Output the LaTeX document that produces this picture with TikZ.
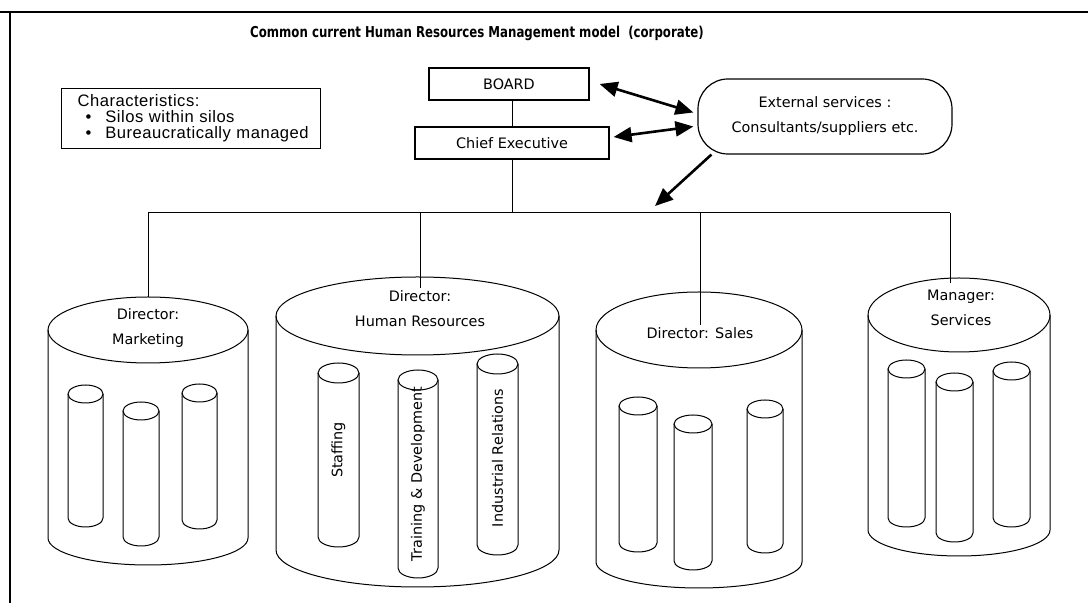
\documentclass[tikz,border=0pt]{standalone}
\usepackage{fontspec}
\setmainfont{DejaVu Sans}
\newfontfamily\charfont[LetterSpace=3]{Liberation Sans}
\usetikzlibrary{arrows.meta}
\newcommand\cyl[6]{%
  \draw (#1-#3,#2) -- (#1-#3,#5) arc[start angle=180,end angle=360,x radius={#3*0.5pt},y radius={#6*0.5pt}] -- (#1+#3,#2);
  \draw (#1,#2) ellipse [x radius={#3*0.5pt}, y radius={#4*0.5pt}];}
\tikzset{
  every path/.style={line width=0.5pt},
  lbl/.style={font=\fontsize{7.2pt}{12.5pt}\selectfont, align=center, inner sep=1pt},
  boxnode/.style={draw, line width=0.6pt, font=\fontsize{7.2pt}{9pt}\selectfont, inner sep=0pt},
  vlbl/.style={font=\fontsize{7.2pt}{9pt}\selectfont, rotate=90, inner sep=1pt},
  bigarrow/.style={line width=1.3pt, -{Triangle[length=9pt,width=7.5pt]}},
  biarrow/.style={line width=1.3pt, {Triangle[length=9pt,width=7.5pt]}-{Triangle[length=9pt,width=7.5pt]}},
}
\begin{document}
\begin{tikzpicture}[x=0.5pt,y=-0.5pt]
\useasboundingbox (0,0) rectangle (1088,603);
% frame
\draw[line width=1pt] (0,12) -- (1088,12);
\draw[line width=0.6pt] (10,12) -- (10,603);
% title
\node[font=\bfseries\fontsize{7.5pt}{8pt}\selectfont, inner sep=0pt] (title) at (477,33)
  {\scalebox{0.785}[1]{Common current Human Resources Management model\ \ (corporate)}};
% characteristics
\node[draw, line width=0.6pt, anchor=north west, minimum width=129.5pt, minimum height=30pt,
  text width=129.5pt, inner sep=0pt, align=left, font=\charfont\fontsize{8.3pt}{8pt}\selectfont]
  (chr) at (61,88)
  {\hspace*{8pt}Characteristics:\\
   \hspace*{12pt}\textbullet\hspace*{7pt}Silos within silos\\
   \hspace*{12pt}\textbullet\hspace*{7pt}Bureaucratically managed};
% top boxes
\node[boxnode, minimum width=80pt, minimum height=16pt] (board) at (509,84) {BOARD};
\node[boxnode, minimum width=97pt, minimum height=16pt] (chief) at (512,143) {Chief Executive};
\node[draw, line width=0.6pt, rounded corners=15pt, minimum width=127pt, minimum height=37.5pt,
  align=center, font=\fontsize{7.2pt}{12.5pt}\selectfont] (ext) at (825,116.5)
  {External services :\\Consultants/suppliers etc.};
\draw (chief.north) -- (chief.north |- board.south);
% arrows
\draw[biarrow] ([xshift=5pt]board.east) -- ([xshift=-2pt,yshift=2pt]ext.west);
\draw[biarrow] ([xshift=2pt,yshift=3pt]chief.east) -- ([xshift=-2pt,yshift=-5pt]ext.west);
\coordinate (arrend) at (655,206);
\draw[bigarrow] ([xshift=7pt]ext.south west) -- (arrend);
% bus
\coordinate (busL) at (148,213);
\coordinate (busR) at (950,213);
\draw (chief.south) -- (chief.south |- busL);
\draw (busL) -- (busR);
% cylinders: outer
\cyl{148}{330}{100}{33}{538}{27}
\cyl{417.5}{316}{141.5}{39}{550}{37}
\cyl{699}{330}{103}{38}{562}{26}
\cyl{959}{315}{91}{37}{530}{26}
% inner: marketing
\cyl{85.5}{394}{17.5}{9}{518}{9}
\cyl{141}{411}{18}{9}{537}{9}
\cyl{199.5}{393}{17.5}{9}{520}{9}
% inner: HR
\cyl{338.5}{373}{20.5}{10}{537}{10}
\cyl{418}{380}{20}{10}{568}{10}
\cyl{497.5}{364}{20.5}{10}{545}{10}
% inner: sales
\cyl{638}{406}{19}{9}{543}{9}
\cyl{693}{424}{19}{9}{561}{9}
\cyl{765}{409}{18}{9}{544}{9}
% inner: services
\cyl{906.5}{369}{18.5}{9}{518}{9}
\cyl{954.5}{382}{18.5}{9}{533}{9}
\cyl{1011.5}{371}{18.5}{9}{518}{9}
% labels
\node[lbl] (mkt) at (148,328) {Director:\\Marketing};
\node[lbl] (hr) at (420,309) {Director:\\Human Resources};
\node[lbl] (sales) at (700,333) {Director: Sales};
\node[lbl] (svc) at (961,308) {Manager:\\Services};
\node[vlbl] (staff) at (338.5,450) {Staffing};
\node[vlbl] (train) at (418,474) {Training \& Development};
\node[vlbl] (ind) at (497.5,458) {Industrial Relations};
% connectors to cylinders
\coordinate (mkttop) at (148,297);
\draw (busL) -- (mkttop);
\draw (hr.north |- busL) -- (hr.north);
\draw (sales.north |- busL) -- (sales.north);
\coordinate (svctop) at (950,283);
\draw (busR) -- (svctop);
\end{tikzpicture}
\end{document}
